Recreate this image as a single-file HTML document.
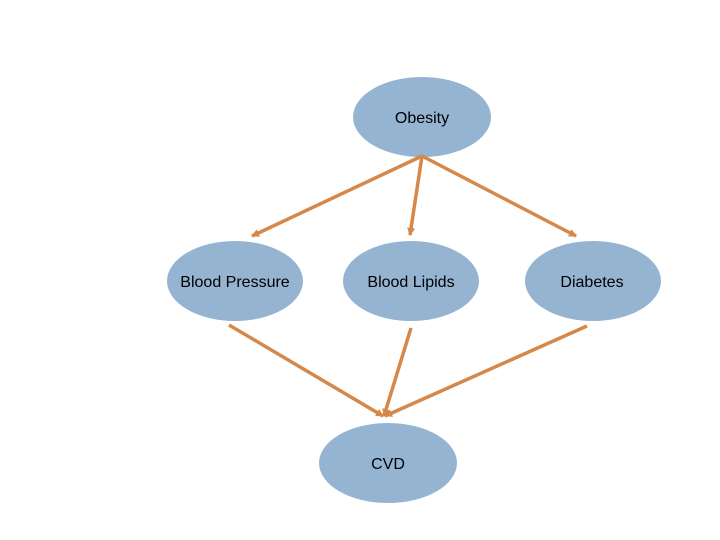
<!DOCTYPE html>
<html><head><meta charset="utf-8"><style>
html,body{margin:0;padding:0;background:#fff;}
svg{display:block;}
text{font-family:"Liberation Sans",sans-serif;font-size:16px;fill:#000;}
</style></head><body>
<svg width="720" height="540" viewBox="0 0 720 540">
<defs>
<marker id="a" markerWidth="10" markerHeight="10" refX="7" refY="4" orient="auto" markerUnits="userSpaceOnUse">
<path d="M0,0 L8,4 L0,8 z" fill="#D58849"/>
</marker>
</defs>
<g fill="#94B4D2">
<ellipse cx="422" cy="117" rx="69" ry="40"/>
<ellipse cx="235" cy="281" rx="68" ry="40"/>
<ellipse cx="411" cy="281" rx="68" ry="40"/>
<ellipse cx="593" cy="281" rx="68" ry="40"/>
<ellipse cx="388" cy="463" rx="69" ry="40"/>
</g>
<g stroke="#D58849" stroke-width="3.5" fill="none" marker-end="url(#a)">
<line x1="422" y1="156" x2="252" y2="236"/>
<line x1="422" y1="156" x2="410" y2="235"/>
<line x1="422" y1="156" x2="576" y2="236"/>
<line x1="229" y1="325" x2="383" y2="416"/>
<line x1="411" y1="328" x2="384" y2="416"/>
<line x1="587" y1="326" x2="385" y2="416"/>
</g>
<text x="422" y="123" text-anchor="middle">Obesity</text>
<text x="235" y="287" text-anchor="middle">Blood Pressure</text>
<text x="411" y="287" text-anchor="middle">Blood Lipids</text>
<text x="592" y="287" text-anchor="middle">Diabetes</text>
<text x="388" y="469" text-anchor="middle">CVD</text>
</svg>
</body></html>
